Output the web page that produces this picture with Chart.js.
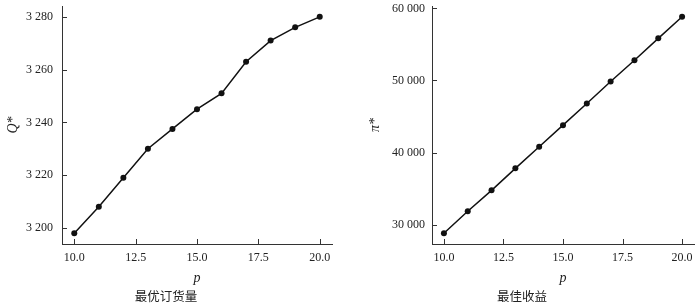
<!DOCTYPE html>
<html lang="zh">
<head>
    <meta charset="UTF-8">
    <title>最优订货量与最佳收益</title>
    <script src="https://cdn.jsdelivr.net/npm/chart.js"></script>
    <style>
        body, html { margin: 0; padding: 0; background: #fff; overflow: hidden; }
        .wrap { position: absolute; top: 0; width: 350px; height: 306px; }
        #w1 { left: 0; }
        #w2 { left: 350px; }
    </style>
</head>
<body>
    <div class="wrap" id="w1"><canvas id="qChart" width="350" height="306"></canvas></div>
    <div class="wrap" id="w2"><canvas id="piChart" width="350" height="306"></canvas></div>

    <script>
        const pValues = [10, 11, 12, 13, 14, 15, 16, 17, 18, 19, 20];
        const qStar = [3198, 3208, 3219, 3230, 3237.5, 3245, 3251, 3263, 3271, 3276, 3280];
        const piStar = [28800, 31850, 34750, 37800, 40800, 43800, 46800, 49850, 52800, 55850, 58850];
        const xTicks = [10, 12.5, 15, 17.5, 20];
        const qTicks = [3200, 3220, 3240, 3260, 3280];
        const piTicks = [30000, 40000, 50000, 60000];

        const serif = '"Liberation Serif", "DejaVu Serif", serif';
        const axisColor = '#333';

        const fmt = v => String(v).replace(/\B(?=(\d{3})+(?!\d))/g, ' ');

        // short tick marks pointing into the plot
        const innerTicks = {
            id: 'innerTicks',
            afterDraw(chart) {
                const { ctx, chartArea, scales } = chart;
                ctx.save();
                ctx.strokeStyle = axisColor;
                ctx.lineWidth = 1;
                ctx.beginPath();
                scales.x.ticks.forEach(t => {
                    const px = Math.round(scales.x.getPixelForValue(t.value)) + 0.5;
                    ctx.moveTo(px, chartArea.bottom);
                    ctx.lineTo(px, chartArea.bottom - 5);
                });
                scales.y.ticks.forEach(t => {
                    const py = Math.round(scales.y.getPixelForValue(t.value)) + 0.5;
                    ctx.moveTo(chartArea.left, py);
                    ctx.lineTo(chartArea.left + 5, py);
                });
                ctx.stroke();
                ctx.restore();
            }
        };

        function makeChart(id, yVals, yTicks, yMin, yMax, yTitle, caption, o) {
            return new Chart(document.getElementById(id), {
                type: 'line',
                data: {
                    datasets: [{
                        data: pValues.map((p, i) => ({ x: p, y: yVals[i] })),
                        borderColor: '#111',
                        backgroundColor: '#111',
                        borderWidth: 1.5,
                        pointRadius: 3,
                        pointBackgroundColor: '#111',
                        pointBorderWidth: 0,
                        tension: 0
                    }]
                },
                options: {
                    responsive: false,
                    animation: false,
                    devicePixelRatio: 1,
                    layout: { padding: { top: 6, right: o.right, left: 0, bottom: 0 } },
                    plugins: {
                        legend: { display: false },
                        tooltip: { enabled: false },
                        title: {
                            display: true,
                            position: 'bottom',
                            text: caption,
                            color: '#222',
                            font: { family: '"Noto Sans CJK SC", sans-serif', size: 12.5, weight: 'normal' },
                            padding: { top: 2, bottom: 2 }
                        }
                    },
                    scales: {
                        x: {
                            type: 'linear',
                            min: 9.5,
                            max: 20.5,
                            afterBuildTicks: s => { s.ticks = xTicks.map(v => ({ value: v })); },
                            afterFit: s => { s.height = 43; s.paddingLeft = 0; s.paddingRight = 0; },
                            grid: { display: false, drawTicks: false },
                            border: { display: true, color: axisColor, width: 1 },
                            ticks: {
                                color: '#222',
                                padding: 7,
                                maxRotation: 0,
                                font: { family: serif, size: 12 },
                                callback: v => v.toFixed(1)
                            },
                            title: {
                                display: true,
                                text: 'p',
                                color: '#222',
                                padding: { top: 0, bottom: 0 },
                                font: { family: serif, size: 14, style: 'italic' }
                            }
                        },
                        y: {
                            type: 'linear',
                            min: yMin,
                            max: yMax,
                            afterBuildTicks: s => { s.ticks = yTicks.map(v => ({ value: v })); },
                            afterFit: s => { s.width = o.yWidth; s.paddingTop = 0; s.paddingBottom = 0; },
                            grid: { display: false, drawTicks: false },
                            border: { display: true, color: axisColor, width: 1 },
                            ticks: {
                                color: '#222',
                                padding: o.tickPad,
                                font: { family: serif, size: 12 },
                                callback: v => fmt(v)
                            },
                            title: {
                                display: true,
                                text: yTitle,
                                color: '#222',
                                padding: { top: o.titlePad, bottom: 0 },
                                font: { family: serif, size: 14, style: 'italic' }
                            }
                        }
                    }
                },
                plugins: [innerTicks]
            });
        }

        makeChart('qChart', qStar, qTicks, 3193.9, 3284.1, 'Q*', '最优订货量',
            { right: 18, yWidth: 62, tickPad: 9, titlePad: 5 });
        makeChart('piChart', piStar, piTicks, 27300, 60340, 'π*', '最佳收益',
            { right: 6, yWidth: 82, tickPad: 7, titlePad: 17 });
    </script>
</body>
</html>
